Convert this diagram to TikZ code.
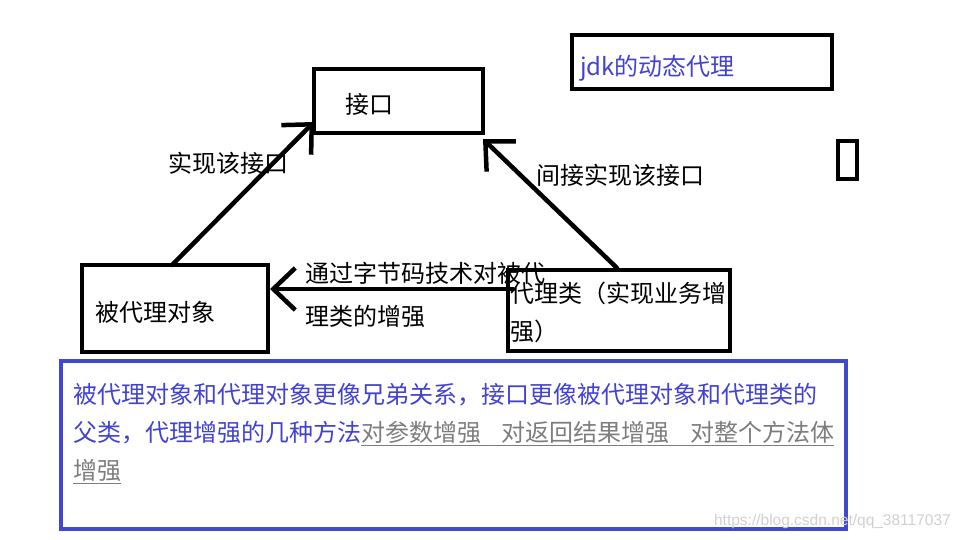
\documentclass[tikz,border=0pt]{standalone}
\usepackage{fontspec}
\setmainfont{Noto Sans CJK SC}
\newfontfamily\syfont{Liberation Sans}
\usetikzlibrary{calc,arrows.meta}

% 颜色
\definecolor{zilan}{RGB}{66,66,210}
\definecolor{kuanglan}{RGB}{64,72,204}
\definecolor{huizi}{RGB}{125,125,125}
\definecolor{shuiyin}{RGB}{208,208,208}

\begin{document}
\begin{tikzpicture}[x=1pt,y=-1pt,line cap=round,line join=round,
  kuang/.style={draw,line width=4.5pt,line cap=butt,line join=miter,anchor=north west,outer sep=0pt},
  wenzi/.style={font=\fontsize{24}{38}\selectfont,inner sep=0pt,align=left},
  jiantou/.style={line width=4.5pt,-{Straight Barb[length=22pt,width=42pt]}}]

% 画布 960x540
\useasboundingbox (0,0) rectangle (960,540);

% 三个类框（text height 稍大，让字往下一点）
\node[kuang,wenzi,minimum width=169pt,minimum height=64pt,text height=27pt,
  inner xsep=31pt,text width=107pt] (jiekou) at (314,69) {接口};
\node[kuang,wenzi,minimum width=186pt,minimum height=87pt,text height=27pt,
  inner xsep=13pt,text width=160pt] (bdl) at (82,265) {被代理对象};
\node[kuang,wenzi,minimum width=222pt,minimum height=81pt,text height=25pt,
  inner xsep=2pt,text width=218pt] (dll) at (508,270) {代理类（实现业务增\\强）};

% 右上角标题框和小框
\node[kuang,wenzi,minimum width=260pt,minimum height=54pt,text height=33pt,
  inner xsep=8pt,text width=244pt,text=zilan] (jdk) at (572,35) {jdk的动态代理};
\node[kuang,minimum width=19pt,minimum height=38pt,inner sep=0pt] (xiaokuang) at (838,141) {};

% 箭头
\coordinate (a1) at ($(bdl.north west)+(90,0)$);
\coordinate (a2) at ($(dll.north west)+(109,-2)$);
\coordinate (a3) at ($(dll.north west)+(5,19)$);
\draw[jiantou] (a1) -- ($(jiekou.south west)+(0,-11)$);
\draw[jiantou] (a2) -- ($(jiekou.south east)+(0,6)$);
\draw[jiantou] (a3) -- ($(bdl.east |- a3)+(2,0)$);

% 箭头上的说明
\node[wenzi] (shixian) at (228,163) {实现该接口};
\node[wenzi] (jianjie) at (620,175) {间接实现该接口};
\node[wenzi,font=\fontsize{24}{43}\selectfont,anchor=west] (zijiema) at (305,294.5)
  {通过字节码技术对被代\\理类的增强};

% 底部蓝框说明
\node[kuang,draw=kuanglan,minimum width=785pt,minimum height=168pt] (shuoming) at (61,361) {};
\node[wenzi,anchor=north west,text width=770pt,text=zilan] (shuomingzi)
  at ($(shuoming.north west)+(12,22)$)
  {被代理对象和代理对象更像兄弟关系，接口更像被代理对象和代理类的\\
   父类，代理增强的几种方法{\color{huizi}\underline{对参数增强\hspace{0.85em}对返回结果增强\hspace{0.85em}对整个方法体}}\\
   {\color{huizi}\underline{增强}}};

% 水印
\node[font=\syfont\fontsize{15.5}{15.5}\selectfont,text=shuiyin,anchor=east,inner sep=0pt]
  (shuiyin) at (951,521) {https://blog.csdn.net/qq\_38117037};

\end{tikzpicture}
\end{document}
